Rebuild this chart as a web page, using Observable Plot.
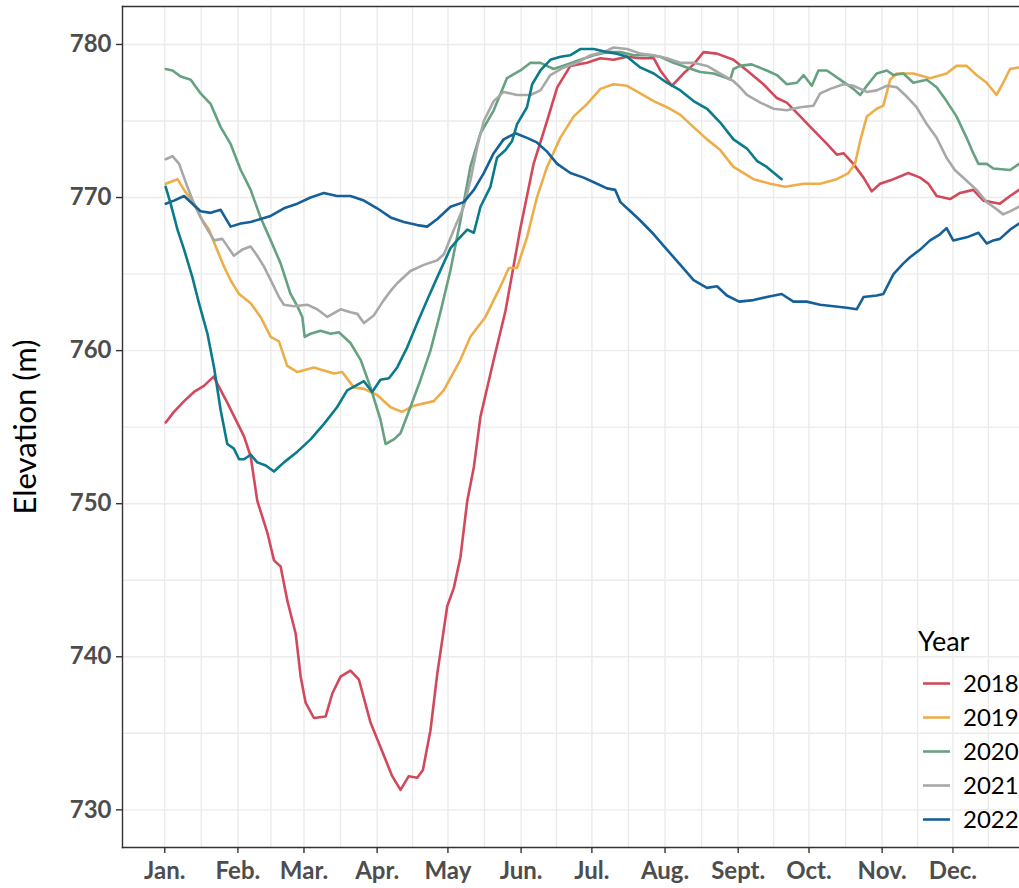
<!DOCTYPE html>
<html>
<head>
<meta charset="utf-8">
<script src="https://cdn.jsdelivr.net/npm/d3@7"></script>
<script src="https://cdn.jsdelivr.net/npm/@observablehq/plot@0.6"></script>
<style>
  html, body { margin: 0; padding: 0; background: #fff; }
  #chart { width: 1019px; height: 888px; }
</style>
</head>
<body>
<div id="chart"></div>
<script>
// ---- data: [day of year, elevation (m)] ----
const s2018 = [[0.4,755.3],[3.9,756.0],[8.2,756.7],[12.4,757.3],[16.6,757.7],[20.7,758.3],[26.5,756.6],[33.6,754.4],[36.4,753.1],[39.2,750.2],[43.5,748.1],[46.3,746.3],[49.1,745.9],[51.9,743.7],[55.5,741.5],[57.6,738.7],[59.7,737.0],[63.2,736.0],[68.2,736.1],[71,737.6],[74.5,738.7],[78.7,739.1],[82.3,738.5],[87.2,735.7],[91.4,734.1],[96.4,732.2],[99.9,731.3],[103.4,732.2],[107,732.1],[109.4,732.6],[112.6,735.2],[115.5,738.9],[119.7,743.3],[122.5,744.5],[125.3,746.5],[128.2,750.2],[131,752.4],[133.8,755.7],[139.4,759.4],[144.4,762.6],[150.7,768.0],[156.3,772.2],[162,775.0],[166.3,777.2],[171.9,778.6],[178.9,778.8],[184.6,779.1],[190.2,779.0],[195.9,779.2],[201.5,779.1],[207.2,779.1],[210,778.3],[214.9,777.3],[219.8,778.1],[224.1,778.7],[228.3,779.5],[234,779.4],[241,779.0],[246.7,778.3],[253.7,777.4],[259.4,776.5],[263.6,776.2],[269.3,775.3],[274.9,774.4],[280.6,773.5],[284.8,772.8],[287.6,772.9],[291.8,772.2],[296.1,771.3],[299.6,770.4],[303.1,770.9],[308.8,771.2],[315.1,771.6],[320.1,771.3],[323.6,770.9],[327.1,770.1],[332.8,769.9],[337,770.3],[342.6,770.5],[346.9,769.8],[353.9,769.6],[358.2,770.1],[362,770.5]];
const s2019 = [[0.4,770.9],[5.4,771.2],[8.2,770.5],[12.4,769.6],[15.2,768.7],[18.8,767.9],[21.6,766.8],[25.1,765.5],[27.9,764.6],[31.5,763.7],[36.4,763.1],[40.6,762.2],[44.9,760.9],[48.4,760.6],[51.9,759.0],[56.2,758.6],[63.2,758.9],[67.4,758.7],[71.7,758.5],[75.2,758.6],[80.1,757.6],[84.4,757.5],[90,757.1],[95.7,756.3],[100.6,756.0],[105.5,756.4],[114,756.7],[118.2,757.4],[125.3,759.4],[129.5,760.9],[135.9,762.2],[139.4,763.3],[142.9,764.4],[145.8,765.4],[149.3,765.4],[153.5,767.4],[157.7,770.0],[162,772.0],[167.6,773.9],[173.3,775.3],[178.9,776.1],[184.6,777.1],[190.2,777.4],[195.9,777.3],[201.5,776.8],[207.2,776.3],[212.8,775.9],[218.5,775.4],[224.1,774.6],[229.8,773.8],[235.4,773.1],[241,772.0],[249.5,771.2],[256.6,770.9],[262.9,770.7],[270.7,770.9],[277.7,770.9],[284.8,771.2],[289.7,771.6],[292.5,772.2],[294.7,773.7],[297.5,775.3],[301.7,775.8],[304.5,776.0],[307.4,777.7],[310.2,778.1],[317.2,778.1],[324.3,777.8],[331.3,778.1],[335.5,778.6],[339.8,778.6],[344,778.0],[348.3,777.5],[352.5,776.7],[355.3,777.5],[358.2,778.4],[362,778.5]];
const s2020 = [[0.4,778.4],[3.3,778.3],[6.8,777.9],[11,777.7],[15.2,776.8],[19.5,776.1],[23.7,774.6],[27.9,773.5],[32.2,771.8],[36.4,770.5],[40.6,768.7],[44.9,767.2],[49.1,765.7],[53.3,763.7],[56.2,762.9],[58.3,762.2],[59.3,760.9],[61.8,761.1],[66,761.3],[70.3,761.1],[73.8,761.2],[78.7,760.5],[83,759.4],[87.2,757.6],[91.4,755.5],[93.6,753.9],[97.1,754.2],[99.9,754.6],[104.1,756.3],[108.4,758.1],[112.6,760.0],[116.8,762.5],[121,765.2],[125.3,768.5],[129.5,772.0],[133.8,774.2],[139.4,775.7],[145,777.8],[150.7,778.3],[155,778.8],[159.2,778.8],[164.8,778.4],[170.5,778.7],[176.1,779.0],[181.8,779.3],[187.4,779.5],[193.1,779.5],[198.7,779.3],[204.4,779.3],[210,779.2],[215.6,778.8],[221.3,778.5],[226.9,778.2],[232.6,778.1],[238.2,777.8],[239.6,777.7],[241,778.4],[243.8,778.6],[248.7,778.7],[255.1,778.3],[259.4,778.0],[263.6,777.4],[267.9,777.5],[270.7,778.0],[274.2,777.3],[277,778.3],[280.6,778.3],[286.2,777.7],[291.8,777.1],[294.7,776.7],[297.5,777.3],[301.7,778.1],[306,778.3],[308.8,778.0],[313,778.1],[317.2,777.5],[322.9,777.7],[327.1,777.2],[331.3,776.3],[335.5,775.3],[339.8,773.9],[342.6,772.9],[344.8,772.2],[348.3,772.2],[351.1,771.9],[358.2,771.8],[362,772.2]];
const s2021 = [[0.4,772.5],[3.3,772.7],[6.1,772.2],[9.6,770.7],[12.4,769.6],[16.6,768.3],[20.9,767.2],[24.4,767.3],[29.3,766.2],[32.9,766.6],[36.4,766.8],[39.2,766.2],[42,765.5],[44.9,764.6],[48.4,763.5],[50.5,763.0],[54.7,762.9],[60.4,763.0],[64.6,762.7],[68.9,762.2],[74.5,762.7],[78.7,762.5],[81.6,762.4],[84.4,761.8],[88.6,762.3],[92.8,763.3],[95.7,763.9],[98.5,764.4],[104.1,765.2],[109.8,765.6],[115.5,765.9],[118.3,766.3],[122.5,767.9],[126.7,769.4],[129.5,771.1],[132.4,773.3],[135.2,775.0],[139.4,776.3],[143.6,776.9],[149.3,776.7],[155,776.7],[159.2,777.0],[163.4,778.0],[169.1,778.5],[174.7,778.8],[180.4,779.3],[186,779.5],[190.2,779.8],[195.9,779.7],[201.5,779.4],[207.2,779.3],[212.8,779.1],[218.5,778.8],[224.1,778.8],[229.8,778.6],[235.4,778.1],[241,777.6],[243.8,777.2],[246.7,776.7],[252.4,776.2],[258,775.8],[263.6,775.7],[269.3,775.9],[274.9,776.0],[277.7,776.8],[282,777.1],[287.6,777.4],[291.8,777.3],[297.5,776.9],[301.7,777.0],[306,777.3],[310.2,777.2],[314.4,776.6],[318.6,775.9],[322.9,774.8],[327.1,773.9],[331.3,772.6],[334.8,771.8],[339.8,771.1],[344,770.5],[348.3,769.7],[351.1,769.4],[355.3,768.9],[358.2,769.1],[362,769.4]];
const s2022 = [[0.4,769.6],[3.9,769.8],[8.2,770.1],[12.4,769.5],[15.2,769.1],[19.5,769.0],[23.7,769.2],[27.9,768.1],[32.2,768.3],[36.4,768.4],[40.6,768.6],[44.9,768.8],[50.5,769.3],[56.2,769.6],[61.8,770.0],[67.4,770.3],[73,770.1],[78.7,770.1],[84.4,769.8],[90,769.3],[95.7,768.7],[101.3,768.4],[107,768.2],[111.2,768.1],[115.5,768.6],[121.1,769.4],[126.7,769.7],[131,770.5],[135.2,771.6],[139.4,772.9],[143.6,773.8],[148.6,774.2],[153.5,773.9],[157.7,773.6],[162,773.0],[166.3,772.2],[171.9,771.6],[177.5,771.3],[183.2,770.9],[187.4,770.6],[190.9,770.5],[193.1,769.7],[197.3,769.1],[201.5,768.5],[207.2,767.6],[212.8,766.6],[218.5,765.6],[224.1,764.6],[229.8,764.1],[234,764.2],[238.2,763.6],[243.4,763.2],[249.5,763.3],[255.1,763.5],[261.4,763.7],[266.4,763.2],[272,763.2],[277.7,763.0],[283.4,762.9],[289,762.8],[293.2,762.7],[296.1,763.5],[301.7,763.6],[304.5,763.7],[308.8,765.0],[313,765.7],[315.8,766.1],[320.1,766.6],[324.3,767.2],[328.5,767.6],[331.3,768.0],[334.1,767.2],[339.8,767.4],[344.8,767.7],[348.3,767.0],[351.1,767.2],[353.9,767.3],[358.2,767.9],[362,768.3]];
// partial-year series drawn in teal (not listed in the legend)
const s2023 = [[0.4,770.7],[2.5,769.6],[5.4,767.9],[8.2,766.6],[11.7,764.8],[14.5,763.1],[18.1,761.1],[20.9,758.9],[23.7,756.1],[26.5,753.9],[29.3,753.6],[31.5,752.9],[33.6,752.9],[36.4,753.2],[39.2,752.7],[42.8,752.5],[46.3,752.1],[50.5,752.7],[56.2,753.4],[61.8,754.2],[67.4,755.2],[73,756.3],[77.3,757.4],[84.4,758.0],[87.9,757.3],[91.4,758.1],[95,758.2],[98.5,758.9],[102.7,760.2],[107,761.8],[111.2,763.3],[115.5,764.8],[121.1,766.7],[123.9,767.2],[128.2,767.9],[131,767.7],[133.8,769.4],[138,770.7],[140.8,772.6],[144.4,773.1],[147.2,773.7],[149.3,774.8],[153.5,775.9],[155.7,777.4],[159.2,778.3],[163.4,779.0],[167.7,779.2],[171.9,779.3],[176.1,779.7],[181.8,779.7],[187.4,779.5],[191.6,779.4],[195.9,779.2],[201.5,778.5],[207.2,778.1],[212.8,777.5],[218.5,777.0],[224.1,776.3],[229.8,775.8],[235.4,774.9],[241,773.8],[246.7,773.2],[250.9,772.4],[255.1,772.0],[261.4,771.2]];

const seriesNames = ["2018", "2019", "2020", "2021", "2022", "2023"];
const seriesData = [s2018, s2019, s2020, s2021, s2022, s2023];
const seriesColors = ["#d1495b", "#edae49", "#66a182", "#a8a8a8", "#16609a", "#0b7b8b"];
const legendYears = ["2018", "2019", "2020", "2021", "2022"];

const monthDays = [0, 31, 59, 90, 120, 151, 181, 212, 243, 273, 304, 334];
const monthLabels = ["Jan.", "Feb.", "Mar.", "Apr.", "May", "Jun.", "Jul.", "Aug.", "Sept.", "Oct.", "Nov.", "Dec."];
const yTicks = [730, 740, 750, 760, 770, 780];
const yMinor = [735, 745, 755, 765, 775];

// ---- build table ----
const rows = [];
seriesNames.forEach((name, i) => {
  seriesData[i].forEach(([day, elev]) => rows.push({year: name, day, elev}));
});
const minorX = monthDays.map((d, i) => i < monthDays.length - 1 ? (d + monthDays[i + 1]) / 2 : d + 15);
const labelByDay = new Map(monthDays.map((d, i) => [d, monthLabels[i]]));

const gridStyle = {stroke: "#ebebeb", strokeOpacity: 1, strokeWidth: 1.4};
const FONT = "Lato, 'Open Sans', sans-serif";

const chart = Plot.plot({
  width: 1019,
  height: 888,
  marginLeft: 122,
  marginRight: 0,
  marginTop: 6,
  marginBottom: 41,
  style: {fontFamily: FONT, fontSize: "24px", background: "#ffffff", overflow: "visible"},
  x: {domain: [-17.9, 362.2]},
  y: {domain: [727.54, 782.48]},
  color: {domain: seriesNames, range: seriesColors},
  marks: [
    Plot.gridX(minorX, gridStyle),
    Plot.gridX(monthDays, gridStyle),
    Plot.gridY(yMinor, gridStyle),
    Plot.gridY(yTicks, gridStyle),
    Plot.line(rows, {x: "day", y: "elev", z: "year", stroke: "year", strokeWidth: 2.6, strokeLinejoin: "round", strokeLinecap: "round"}),
    Plot.axisX(monthDays, {tickFormat: d => labelByDay.get(d), tickSize: 6, tickPadding: 8, fontWeight: "bold", label: null}),
    Plot.axisY(yTicks, {tickSize: 6, tickPadding: 5, fontWeight: "bold", label: null}),
    Plot.frame({anchor: "left", stroke: "#333333", strokeWidth: 1.4}),
    Plot.frame({anchor: "top", stroke: "#333333", strokeWidth: 1.4}),
    Plot.frame({anchor: "bottom", stroke: "#333333", strokeWidth: 1.4})
  ]
});

document.getElementById("chart").appendChild(chart);

const svg = d3.select(chart);
svg.selectAll('[aria-label="x-axis tick label"] text, [aria-label="y-axis tick label"] text').attr("fill", "#4d4d4d");
svg.selectAll('[aria-label="x-axis tick label"], [aria-label="y-axis tick label"]').attr("fill", "#4d4d4d");
svg.selectAll('[aria-label="x-axis tick"], [aria-label="y-axis tick"]').attr("stroke", "#333333").attr("stroke-width", 1.4);

// y-axis title
svg.append("text")
  .attr("transform", "translate(25,427) rotate(-90)")
  .attr("text-anchor", "middle")
  .attr("dy", "0.35em")
  .attr("font-family", FONT)
  .attr("font-size", 31)
  .attr("fill", "#000")
  .text("Elevation (m)");

// legend
const lg = svg.append("g").attr("font-family", FONT).attr("text-anchor", "start");
lg.append("text").attr("x", 918).attr("y", 651).attr("text-anchor", "start")
  .attr("font-size", 27).attr("fill", "#000").text("Year");
legendYears.forEach((yr, i) => {
  const cy = 683.5 + i * 34;
  const color = seriesColors[seriesNames.indexOf(yr)];
  lg.append("line").attr("x1", 923).attr("x2", 950).attr("y1", cy).attr("y2", cy)
    .attr("stroke", color).attr("stroke-width", 2.6);
  lg.append("text").attr("x", 963).attr("y", cy).attr("dy", "0.36em").attr("text-anchor", "start")
    .attr("font-size", 24).attr("fill", "#000").text(yr);
});
</script>
</body>
</html>
